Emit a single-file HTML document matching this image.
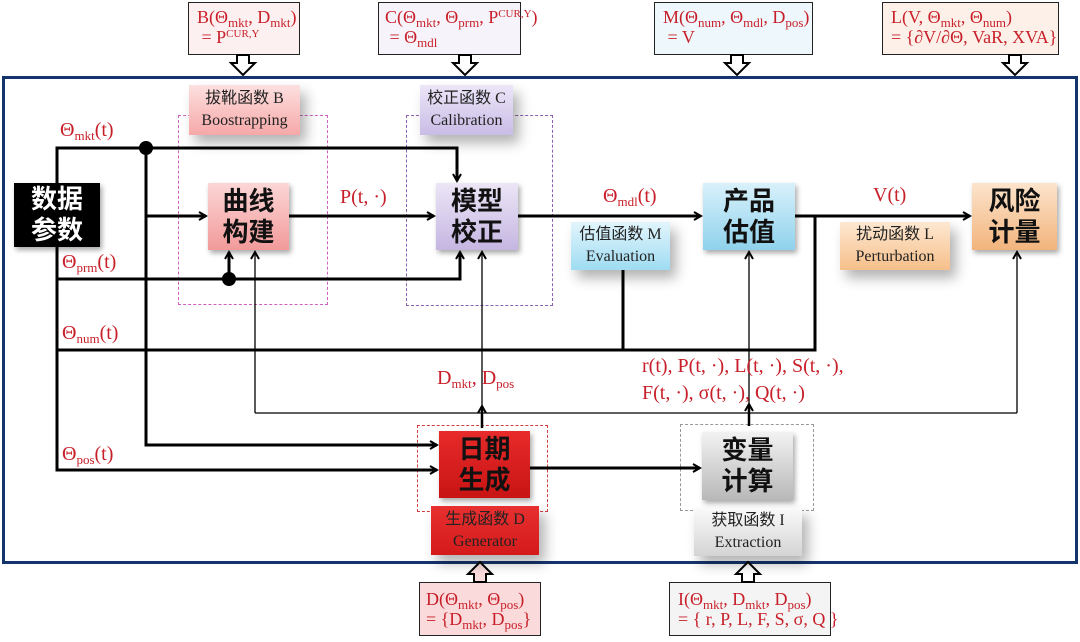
<!DOCTYPE html>
<html><head><meta charset="utf-8"><style>
body{margin:0;width:1080px;height:642px;background:#fff;position:relative;overflow:hidden;font-family:"Liberation Serif","Noto Serif CJK SC",serif}
.a{position:absolute;box-sizing:border-box}
.f{border:1.5px solid #222;color:#c8202a;font-size:18px;line-height:20px;padding:4px 0 0 8px;white-space:nowrap}
.n{display:flex;align-items:center;justify-content:center;text-align:center;font-family:"Liberation Sans","Noto Sans CJK SC",sans-serif;font-weight:bold;font-size:26px;line-height:31px;color:#111;box-shadow:2px 3px 5px rgba(0,0,0,.35)}
.l{display:flex;flex-direction:column;align-items:center;justify-content:center;font-family:"Liberation Serif","Noto Sans CJK SC",serif;font-size:16px;line-height:22px;color:#222;box-shadow:6px 8px 12px rgba(0,0,0,.3)}
.r{color:#c8202a;font-size:20px;white-space:nowrap;position:absolute}
sub{font-size:13px;vertical-align:-4px;line-height:0}
sup{font-size:11px;vertical-align:6px;line-height:0}
</style></head><body>
<div class="a" style="left:2px;top:76px;width:1076px;height:488px;border:3px solid #15346e"></div>

<div class="a f" style="left:188px;top:2px;width:112px;height:53px;background:#fdf0f0">B(Θ<sub>mkt</sub>, D<sub>mkt</sub>)<br>&nbsp;= P<sup>CUR,Y</sup></div>
<div class="a f" style="left:378px;top:2px;width:143px;height:53px;background:#f6f4fa;padding-left:6px">C(Θ<sub>mkt</sub>, Θ<sub>prm</sub>, P<sup>CUR,Y</sup>)<br>&nbsp;= Θ<sub>mdl</sub></div>
<div class="a f" style="left:654px;top:2px;width:159px;height:53px;background:#eef8fc">M(Θ<sub>num</sub>, Θ<sub>mdl</sub>, D<sub>pos</sub>)<br>&nbsp;= V</div>
<div class="a f" style="left:882px;top:2px;width:177px;height:53px;background:#fdf0e8">L(V, Θ<sub>mkt</sub>, Θ<sub>num</sub>)<br>= {∂V/∂Θ, VaR, XVA}</div>
<div class="a f" style="left:419px;top:582px;width:122px;height:54px;background:#fadada;padding-top:6px;padding-left:6px">D(Θ<sub>mkt</sub>, Θ<sub>pos</sub>)<br>= {D<sub>mkt</sub>, D<sub>pos</sub>}</div>
<div class="a f" style="left:669px;top:582px;width:162px;height:54px;background:#f4f4f4;padding-top:6px">I(Θ<sub>mkt</sub>, D<sub>mkt</sub>, D<sub>pos</sub>)<br>= { r, P, L, F, S, σ, Q }</div>

<div class="a" style="left:178px;top:115px;width:150px;height:190px;border:1.2px dashed #d060c0"></div>
<div class="a" style="left:406px;top:115px;width:147px;height:191px;border:1.2px dashed #8a60b0"></div>
<div class="a" style="left:417px;top:425px;width:131px;height:87px;border:1.2px dashed #d04040"></div>
<div class="a" style="left:680px;top:424px;width:134px;height:87px;border:1.2px dashed #999"></div>

<svg class="a" style="left:0;top:0" width="1080" height="642">
<defs><marker id="h" markerWidth="10" markerHeight="10" refX="8" refY="5" orient="auto" markerUnits="userSpaceOnUse"><path d="M1,1 L8,5 L1,9" fill="none" stroke="#000" stroke-width="2"/></marker></defs>
<g stroke="#000" stroke-width="3" fill="none">
<path d="M57,183 V148 H457 V181" marker-end="url(#h)"/>
<path d="M146,148 V445 H437" marker-end="url(#h)"/>
<path d="M146,216 H206" marker-end="url(#h)"/>
<path d="M57,247 V470 H437" marker-end="url(#h)"/>
<path d="M57,279 H460 V252" marker-end="url(#h)"/>
<path d="M229,279 V252" marker-end="url(#h)"/>
<path d="M57,350 H815 V215"/>
<path d="M623,270 V350"/>
<path d="M289,216 H434" marker-end="url(#h)"/>
<path d="M518,216 H701" marker-end="url(#h)"/>
<path d="M795,216 H970" marker-end="url(#h)"/>
<path d="M530,468 H700" marker-end="url(#h)"/>
</g>
<g stroke="#000" stroke-width="1.3" fill="none">
<path d="M255,413 H1017"/>
<path d="M255,413 V252" marker-end="url(#h)"/>
<path d="M1017,413 V252" marker-end="url(#h)"/>
<path d="M482,425 V252" marker-end="url(#h)"/>
<path d="M749,424 V252" marker-end="url(#h)"/>
<path d="M482,428 V406" stroke-width="2.5" marker-end="url(#h)"/>
<path d="M749,426 V404" stroke-width="2.5" marker-end="url(#h)"/>
</g>
<circle cx="146" cy="148" r="7" fill="#000"/>
<circle cx="229" cy="279" r="7" fill="#000"/>
<g fill="#fff" stroke="#000" stroke-width="2">
<path d="M237,55 h12 v8 h6 l-12,12 l-12,-12 h6z"/>
<path d="M459,55 h12 v8 h6 l-12,12 l-12,-12 h6z"/>
<path d="M731,55 h12 v8 h6 l-12,12 l-12,-12 h6z"/>
<path d="M1009,55 h12 v8 h6 l-12,12 l-12,-12 h6z"/>
<path d="M474,582 h12 v-8 h6 l-12,-12 l-12,12 h6z" fill="#fadada"/>
<path d="M742,582 h12 v-8 h6 l-12,-12 l-12,12 h6z"/>
</g>
</svg>

<div class="a n" style="left:14px;top:183px;width:86px;height:64px;background:#000;color:#fff">数据<br>参数</div>
<div class="a n" style="left:208px;top:183px;width:81px;height:67px;background:linear-gradient(#fcd6d6,#f29a9a)">曲线<br>构建</div>
<div class="a n" style="left:436px;top:183px;width:82px;height:67px;background:linear-gradient(#ece6f6,#c5b6e2)">模型<br>校正</div>
<div class="a n" style="left:703px;top:183px;width:92px;height:67px;background:linear-gradient(#d9f1fb,#8fd2ec)">产品<br>估值</div>
<div class="a n" style="left:972px;top:183px;width:85px;height:67px;background:linear-gradient(#fce4cc,#f2b47c)">风险<br>计量</div>
<div class="a n" style="left:439px;top:431px;width:91px;height:67px;background:linear-gradient(#e82a2a,#c81414)">日期<br>生成</div>
<div class="a n" style="left:702px;top:432px;width:91px;height:68px;background:linear-gradient(#f2f2f2,#b8b8b8)">变量<br>计算</div>

<div class="a l" style="left:189px;top:85px;width:111px;height:50px;background:linear-gradient(#fde0e0,#f6a8a8)"><span>拔靴函数 B</span><span>Boostrapping</span></div>
<div class="a l" style="left:420px;top:85px;width:93px;height:50px;background:linear-gradient(#ece6f8,#c9bce6)"><span>校正函数 C</span><span>Calibration</span></div>
<div class="a l" style="left:571px;top:222px;width:99px;height:48px;background:linear-gradient(#e2f5fc,#9fdcf2)"><span>估值函数 M</span><span>Evaluation</span></div>
<div class="a l" style="left:840px;top:222px;width:110px;height:48px;background:linear-gradient(#fde8d2,#f6bf8a)"><span>扰动函数 L</span><span>Perturbation</span></div>
<div class="a l" style="left:431px;top:506px;width:108px;height:49px;background:linear-gradient(#e83030,#d41a1a)"><span>生成函数 D</span><span>Generator</span></div>
<div class="a l" style="left:694px;top:508px;width:108px;height:48px;background:linear-gradient(#fafafa,#d4d4d4)"><span>获取函数 I</span><span>Extraction</span></div>

<div class="r" style="left:60px;top:119px">Θ<sub>mkt</sub>(t)</div>
<div class="r" style="left:340px;top:186px">P(t, ·)</div>
<div class="r" style="left:603px;top:185px">Θ<sub>mdl</sub>(t)</div>
<div class="r" style="left:873px;top:184px">V(t)</div>
<div class="r" style="left:62px;top:251px">Θ<sub>prm</sub>(t)</div>
<div class="r" style="left:62px;top:322px">Θ<sub>num</sub>(t)</div>
<div class="r" style="left:437px;top:367px">D<sub>mkt</sub>, D<sub>pos</sub></div>
<div class="r" style="left:642px;top:355px">r(t), P(t, ·), L(t, ·), S(t, ·),</div>
<div class="r" style="left:642px;top:382px">F(t, ·), σ(t, ·), Q(t, ·)</div>
<div class="r" style="left:62px;top:443px">Θ<sub>pos</sub>(t)</div>
</body></html>
